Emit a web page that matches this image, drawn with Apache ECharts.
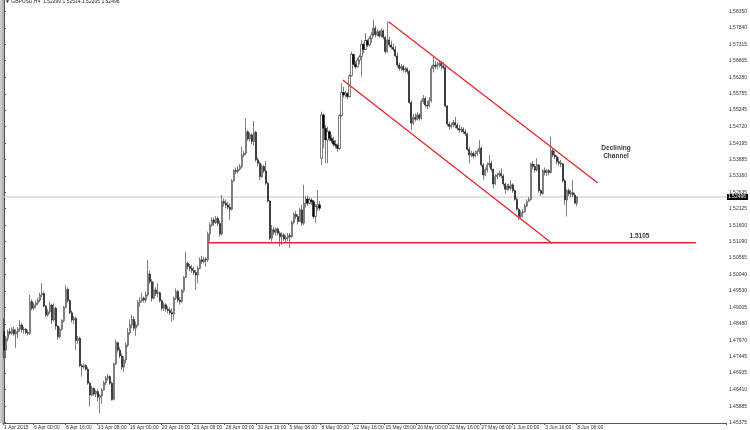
<!DOCTYPE html>
<html>
<head>
<meta charset="utf-8">
<script src="https://cdn.jsdelivr.net/npm/echarts@6/dist/echarts.min.js"></script>
<style>
html, body { margin: 0; padding: 0; background: #fff; }
#chart { width: 750px; height: 430px; }
</style>
</head>
<body>
<div id="chart"></div>
<script>
// GBPUSD H4 from 1 Apr 2015 12:00, one row per bar: [open, close, low, high]
var candles = [
  [1.4824,1.4766,1.4740,1.4866],[1.4766,1.4803,1.4743,1.4811],[1.4803,1.4824,1.4793,1.4830],[1.4824,1.4819,1.4814,1.4835],
  [1.4819,1.4830,1.4814,1.4838],[1.4830,1.4817,1.4811,1.4840],[1.4817,1.4824,1.4772,1.4832],[1.4824,1.4832,1.4803,1.4838],
  [1.4832,1.4845,1.4824,1.4861],[1.4845,1.4830,1.4821,1.4851],[1.4830,1.4832,1.4817,1.4840],[1.4832,1.4821,1.4817,1.4835],
  [1.4821,1.4819,1.4812,1.4830],[1.4819,1.4919,1.4814,1.4940],[1.4919,1.4898,1.4891,1.4926],[1.4898,1.4908,1.4891,1.4916],
  [1.4908,1.4914,1.4898,1.4922],[1.4914,1.4924,1.4908,1.4932],[1.4924,1.4940,1.4917,1.4947],[1.4940,1.4945,1.4933,1.4977],
  [1.4945,1.4905,1.4901,1.4951],[1.4905,1.4877,1.4870,1.4908],[1.4877,1.4887,1.4872,1.4895],[1.4887,1.4908,1.4880,1.4919],
  [1.4908,1.4861,1.4848,1.4912],[1.4861,1.4898,1.4856,1.4914],[1.4898,1.4842,1.4830,1.4903],[1.4842,1.4808,1.4798,1.4845],
  [1.4808,1.4832,1.4803,1.4838],[1.4832,1.4859,1.4827,1.4863],[1.4859,1.4901,1.4853,1.4905],[1.4901,1.4958,1.4898,1.4972],
  [1.4958,1.4922,1.4916,1.4964],[1.4922,1.4884,1.4879,1.4926],[1.4884,1.4861,1.4853,1.4891],[1.4861,1.4866,1.4848,1.4874],
  [1.4866,1.4796,1.4766,1.4872],[1.4796,1.4803,1.4785,1.4811],[1.4803,1.4716,1.4712,1.4808],[1.4716,1.4712,1.4682,1.4722],
  [1.4712,1.4717,1.4706,1.4724],[1.4717,1.4705,1.4701,1.4721],[1.4705,1.4661,1.4656,1.4712],[1.4661,1.4624,1.4587,1.4666],
  [1.4624,1.4645,1.4619,1.4653],[1.4645,1.4627,1.4621,1.4648],[1.4627,1.4635,1.4617,1.4640],[1.4635,1.4617,1.4603,1.4642],
  [1.4617,1.4621,1.4566,1.4627],[1.4621,1.4640,1.4596,1.4645],[1.4640,1.4663,1.4638,1.4669],[1.4663,1.4677,1.4655,1.4684],
  [1.4677,1.4682,1.4669,1.4691],[1.4682,1.4661,1.4656,1.4686],[1.4661,1.4610,1.4606,1.4666],[1.4610,1.4722,1.4606,1.4726],
  [1.4722,1.4789,1.4719,1.4800],[1.4789,1.4766,1.4758,1.4793],[1.4766,1.4747,1.4740,1.4775],[1.4747,1.4712,1.4703,1.4756],
  [1.4712,1.4735,1.4697,1.4747],
  [1.4735,1.4782,1.4724,1.4790],[1.4782,1.4821,1.4775,1.4835],[1.4821,1.4845,1.4814,1.4863],[1.4845,1.4863,1.4835,1.4877],
  [1.4863,1.4835,1.4827,1.4872],[1.4835,1.4845,1.4811,1.4856],[1.4845,1.4916,1.4840,1.4924],[1.4916,1.4922,1.4903,1.4933],
  [1.4922,1.4930,1.4916,1.4947],[1.4930,1.4924,1.4916,1.4935],[1.4924,1.4940,1.4916,1.4951],[1.4940,1.5006,1.4935,1.5051],
  [1.5006,1.4982,1.4975,1.5017],[1.4982,1.4930,1.4919,1.4990],[1.4930,1.4956,1.4926,1.4982],[1.4956,1.4945,1.4937,1.4964],
  [1.4945,1.4947,1.4933,1.4977],[1.4947,1.4922,1.4916,1.4951],[1.4922,1.4898,1.4891,1.4926],[1.4898,1.4909,1.4890,1.4916],
  [1.4909,1.4895,1.4887,1.4914],[1.4895,1.4891,1.4882,1.4905],[1.4891,1.4884,1.4877,1.4901],[1.4884,1.4880,1.4856,1.4898],
  [1.4880,1.4930,1.4861,1.4935],[1.4930,1.4951,1.4924,1.4961],[1.4951,1.4924,1.4916,1.4956],[1.4924,1.4919,1.4909,1.4933],
  [1.4919,1.4954,1.4914,1.4958],[1.4954,1.4996,1.4947,1.5000],[1.4996,1.5040,1.4993,1.5077],[1.5040,1.5030,1.5021,1.5045],
  [1.5030,1.5024,1.5014,1.5038],[1.5024,1.5017,1.5009,1.5035],[1.5017,1.5011,1.5003,1.5030],[1.5011,1.5003,1.4956,1.5019],
  [1.5003,1.5024,1.4977,1.5032],[1.5024,1.5051,1.5021,1.5059],[1.5051,1.5045,1.5038,1.5063],[1.5045,1.5053,1.5040,1.5061],
  [1.5053,1.5051,1.5030,1.5059],[1.5051,1.5133,1.5045,1.5140],[1.5133,1.5161,1.5109,1.5169],[1.5161,1.5177,1.5156,1.5185],
  [1.5177,1.5169,1.5158,1.5185],[1.5169,1.5182,1.5164,1.5190],[1.5182,1.5166,1.5158,1.5188],[1.5166,1.5133,1.5124,1.5175],
  [1.5133,1.5235,1.5127,1.5256],[1.5235,1.5230,1.5219,1.5245],[1.5230,1.5224,1.5214,1.5242],[1.5224,1.5217,1.5211,1.5235],
  [1.5217,1.5211,1.5177,1.5230],[1.5211,1.5301,1.5207,1.5306],[1.5301,1.5333,1.5298,1.5337],[1.5333,1.5330,1.5322,1.5343],
  [1.5330,1.5337,1.5324,1.5348],[1.5337,1.5346,1.5333,1.5354],[1.5346,1.5382,1.5340,1.5409],[1.5382,1.5388,1.5375,1.5396],
  [1.5388,1.5456,1.5382,1.5498],[1.5456,1.5433,1.5427,1.5461],[1.5433,1.5446,1.5425,1.5454],[1.5446,1.5425,1.5416,1.5451],
  [1.5425,1.5454,1.5412,1.5490],[1.5454,1.5367,1.5361,1.5458],[1.5367,1.5356,1.5346,1.5374],[1.5356,1.5314,1.5303,1.5361],
  [1.5314,1.5346,1.5309,1.5353],[1.5346,1.5332,1.5325,1.5351],[1.5332,1.5293,1.5288,1.5363],[1.5293,1.5237,1.5233,1.5298],
  [1.5237,1.5119,1.5114,1.5240],[1.5119,1.5146,1.5109,1.5161],[1.5146,1.5138,1.5130,1.5156],[1.5138,1.5149,1.5128,1.5153],
  [1.5149,1.5135,1.5128,1.5153],[1.5135,1.5124,1.5093,1.5142],[1.5124,1.5130,1.5098,1.5138],[1.5130,1.5117,1.5111,1.5135],
  [1.5117,1.5121,1.5107,1.5128],[1.5121,1.5128,1.5111,1.5135],[1.5128,1.5124,1.5088,1.5135],[1.5124,1.5170,1.5121,1.5174],
  [1.5170,1.5195,1.5163,1.5201],[1.5195,1.5188,1.5180,1.5206],[1.5188,1.5172,1.5163,1.5195],[1.5172,1.5209,1.5170,1.5216],
  [1.5209,1.5167,1.5159,1.5225],[1.5167,1.5230,1.5161,1.5288],[1.5230,1.5243,1.5216,1.5251],[1.5243,1.5230,1.5222,1.5254],
  [1.5230,1.5240,1.5227,1.5248],[1.5240,1.5235,1.5225,1.5246],[1.5235,1.5188,1.5180,1.5240],[1.5188,1.5219,1.5167,1.5227],
  [1.5219,1.5225,1.5206,1.5272],[1.5225,1.5214,1.5206,1.5237],[1.5372,1.5509,1.5351,1.5519],[1.5509,1.5467,1.5403,1.5514],
  [1.5467,1.5430,1.5356,1.5477],[1.5430,1.5456,1.5356,1.5472],[1.5456,1.5435,1.5425,1.5461],[1.5435,1.5427,1.5419,1.5446],
  [1.5427,1.5416,1.5409,1.5440],[1.5416,1.5412,1.5403,1.5430],[1.5412,1.5403,1.5393,1.5419],[1.5403,1.5507,1.5398,1.5511],
  [1.5507,1.5580,1.5503,1.5609],[1.5580,1.5572,1.5564,1.5598],[1.5572,1.5577,1.5564,1.5585],[1.5577,1.5567,1.5559,1.5580],
  [1.5567,1.5633,1.5564,1.5637],[1.5633,1.5700,1.5630,1.5709],[1.5700,1.5669,1.5665,1.5704],[1.5669,1.5661,1.5654,1.5679],
  [1.5661,1.5682,1.5658,1.5690],[1.5682,1.5693,1.5669,1.5700],[1.5693,1.5732,1.5630,1.5746],
  [1.5732,1.5716,1.5704,1.5737],[1.5716,1.5744,1.5714,1.5767],[1.5744,1.5730,1.5723,1.5748],[1.5730,1.5751,1.5727,1.5758],
  [1.5751,1.5762,1.5737,1.5772],[1.5762,1.5783,1.5756,1.5811],[1.5783,1.5762,1.5754,1.5790],[1.5762,1.5772,1.5758,1.5779],
  [1.5772,1.5758,1.5754,1.5777],[1.5758,1.5775,1.5754,1.5783],[1.5775,1.5754,1.5748,1.5779],[1.5754,1.5709,1.5702,1.5758],
  [1.5709,1.5746,1.5706,1.5804],[1.5746,1.5730,1.5723,1.5756],[1.5730,1.5723,1.5716,1.5744],[1.5723,1.5716,1.5709,1.5735],
  [1.5716,1.5695,1.5691,1.5727],[1.5695,1.5667,1.5659,1.5706],[1.5667,1.5656,1.5649,1.5674],[1.5656,1.5662,1.5649,1.5670],
  [1.5662,1.5651,1.5643,1.5667],[1.5651,1.5655,1.5643,1.5662],[1.5655,1.5646,1.5638,1.5659],[1.5646,1.5548,1.5544,1.5651],
  [1.5548,1.5483,1.5461,1.5554],[1.5483,1.5501,1.5477,1.5512],[1.5501,1.5495,1.5488,1.5514],[1.5495,1.5509,1.5491,1.5519],
  [1.5509,1.5498,1.5491,1.5514],[1.5498,1.5551,1.5495,1.5558],[1.5551,1.5561,1.5544,1.5572],[1.5561,1.5540,1.5533,1.5567],
  [1.5540,1.5537,1.5527,1.5554],[1.5537,1.5554,1.5533,1.5565],[1.5554,1.5656,1.5548,1.5664],[1.5656,1.5667,1.5643,1.5693],
  [1.5667,1.5662,1.5653,1.5680],[1.5662,1.5667,1.5653,1.5677],[1.5667,1.5672,1.5659,1.5683],[1.5672,1.5664,1.5653,1.5680],
  [1.5664,1.5659,1.5653,1.5677],[1.5659,1.5537,1.5533,1.5667],[1.5537,1.5480,1.5474,1.5540],[1.5480,1.5472,1.5464,1.5488],
  [1.5472,1.5477,1.5466,1.5485],[1.5477,1.5485,1.5470,1.5493],[1.5485,1.5477,1.5467,1.5503],[1.5477,1.5467,1.5459,1.5485],
  [1.5467,1.5461,1.5453,1.5477],[1.5461,1.5464,1.5453,1.5472],[1.5464,1.5456,1.5449,1.5470],[1.5456,1.5449,1.5443,1.5464],
  [1.5449,1.5400,1.5396,1.5453],[1.5400,1.5382,1.5356,1.5407],[1.5382,1.5388,1.5375,1.5396],[1.5388,1.5379,1.5372,1.5393],
  [1.5379,1.5386,1.5375,1.5396],[1.5386,1.5393,1.5379,1.5400],[1.5393,1.5404,1.5386,1.5430],[1.5404,1.5351,1.5346,1.5409],
  [1.5351,1.5319,1.5304,1.5356],
  [1.5319,1.5335,1.5316,1.5343],[1.5335,1.5351,1.5327,1.5358],[1.5351,1.5356,1.5343,1.5382],[1.5356,1.5337,1.5330,1.5364],
  [1.5337,1.5291,1.5277,1.5340],[1.5291,1.5314,1.5288,1.5322],[1.5314,1.5319,1.5306,1.5327],[1.5319,1.5324,1.5312,1.5333],
  [1.5324,1.5316,1.5309,1.5340],[1.5316,1.5291,1.5284,1.5322],[1.5291,1.5274,1.5261,1.5295],[1.5274,1.5284,1.5270,1.5291],
  [1.5284,1.5277,1.5270,1.5291],[1.5277,1.5288,1.5270,1.5303],[1.5288,1.5270,1.5263,1.5293],[1.5270,1.5242,1.5238,1.5274],
  [1.5242,1.5211,1.5207,1.5249],[1.5211,1.5188,1.5177,1.5214],[1.5188,1.5200,1.5182,1.5207],[1.5200,1.5203,1.5185,1.5211],
  [1.5203,1.5221,1.5200,1.5228],[1.5221,1.5235,1.5217,1.5242],[1.5235,1.5242,1.5235,1.5249],[1.5242,1.5354,1.5238,1.5358],
  [1.5354,1.5346,1.5337,1.5364],[1.5346,1.5335,1.5327,1.5354],[1.5335,1.5351,1.5330,1.5372],[1.5351,1.5270,1.5263,1.5354],
  [1.5270,1.5261,1.5253,1.5274],[1.5261,1.5333,1.5256,1.5337],[1.5333,1.5327,1.5318,1.5343],[1.5327,1.5333,1.5316,1.5339],
  [1.5333,1.5327,1.5318,1.5337],[1.5327,1.5396,1.5324,1.5440],[1.5396,1.5382,1.5375,1.5403],[1.5382,1.5377,1.5369,1.5396],
  [1.5377,1.5361,1.5354,1.5382],[1.5361,1.5356,1.5348,1.5375],[1.5356,1.5354,1.5343,1.5367],[1.5354,1.5301,1.5295,1.5358],
  [1.5301,1.5240,1.5224,1.5306],[1.5240,1.5270,1.5188,1.5274],[1.5270,1.5259,1.5253,1.5277],[1.5259,1.5263,1.5249,1.5272],
  [1.5263,1.5256,1.5249,1.5303],[1.5256,1.5230,1.5228,1.5263],[1.52299,1.52496,1.52205,1.52514]
];

var priceTicks = [1.58350, 1.57840, 1.57315, 1.56805, 1.56280, 1.55755, 1.55245, 1.54720, 1.54195,
  1.53685, 1.53160, 1.52635, 1.52125, 1.51600, 1.51090, 1.50565, 1.50040, 1.49530, 1.49005,
  1.48480, 1.47970, 1.47445, 1.46935, 1.46410, 1.45885, 1.45375];

var lastPrice = 1.52496;
var supportLevel = 1.5105;
// trend lines as [bar position, price]
var upperChannel = [[192.6, 1.58035], [297.2, 1.52948]];
var lowerChannel = [[169.65, 1.56193], [274.35, 1.51033]];
var supportLine = [[102.2, supportLevel], [346.5, supportLevel]];

var slots = 362;  // bars plus empty space on the right (chart shift)
var priceLine = [[-0.5, lastPrice], [slots - 0.5, lastPrice]];
var months = ['Jan','Feb','Mar','Apr','May','Jun','Jul','Aug','Sep','Oct','Nov','Dec'];

function pad(n) { return n < 10 ? '0' + n : '' + n; }

// H4 bar times, weekends skipped
var times = [];
var t = Date.UTC(2015, 3, 1, 12);
while (times.length < slots) {
  var d = new Date(t);
  var wd = d.getUTCDay();
  if (wd !== 0 && wd !== 6) {
    if (times.length === 0) {
      times.push(d.getUTCDate() + ' ' + months[d.getUTCMonth()] + ' ' + d.getUTCFullYear());
    } else {
      times.push(d.getUTCDate() + ' ' + months[d.getUTCMonth()] + ' ' + pad(d.getUTCHours()) + ':' + pad(d.getUTCMinutes()));
    }
  }
  t += 4 * 3600 * 1000;
}

function showTime(i) {
  return i === 0 || (i >= 15 && (i - 15) % 16 === 0 && i < candles.length);
}

var font = 'Liberation Sans';
var red = '#e3262b';

var myChart = echarts.init(document.getElementById('chart'));
myChart.setOption({
  animation: false,
  backgroundColor: '#ffffff',
  grid: { left: 3, right: 23, top: 0, bottom: 7 },
  xAxis: [{
    type: 'category',
    data: times,
    boundaryGap: true,
    axisLine: { lineStyle: { color: '#555', width: 1 } },
    axisTick: { show: true, length: 2, interval: showTime, lineStyle: { color: '#555' } },
    axisLabel: {
      interval: showTime,
      align: 'left',
      margin: 2,
      fontFamily: font,
      fontSize: 5,
      color: '#333'
    },
    splitLine: { show: false }
  }, {
    type: 'value',
    min: -0.5,
    max: slots - 0.5,
    show: false
  }],
  yAxis: {
    type: 'value',
    position: 'right',
    min: 1.45354,
    max: 1.58721,
    axisLine: { show: true, lineStyle: { color: '#555', width: 1 } },
    axisTick: { show: true, length: 2, customValues: priceTicks, lineStyle: { color: '#555' } },
    axisLabel: {
      customValues: priceTicks,
      formatter: function (v) { return v.toFixed(5); },
      margin: 3,
      fontFamily: font,
      fontSize: 5,
      color: '#333'
    },
    splitLine: { show: false }
  },
  series: [
    {
      // current price line with its label box on the price scale
      type: 'line', xAxisIndex: 1, data: priceLine, symbol: 'none', silent: true, z: 1,
      lineStyle: { color: '#c4c4c4', width: 1 },
      endLabel: {
        show: true,
        distance: 1,
        formatter: lastPrice.toFixed(5),
        backgroundColor: '#000',
        color: '#fff',
        fontFamily: font,
        fontSize: 5,
        padding: [1, 2, 0, 1]
      }
    },
    {
      type: 'candlestick',
      data: candles,
      barWidth: 1.6,
      z: 2,
      itemStyle: {
        color: '#ffffff',
        color0: '#000000',
        borderColor: '#000000',
        borderColor0: '#000000',
        borderWidth: 0.5
      }
    },
    {
      type: 'line', xAxisIndex: 1, data: upperChannel, symbol: 'none', silent: true, z: 4,
      lineStyle: { color: red, width: 1.3 }
    },
    {
      type: 'line', xAxisIndex: 1, data: lowerChannel, symbol: 'none', silent: true, z: 4,
      lineStyle: { color: red, width: 1.3 }
    },
    {
      type: 'line', xAxisIndex: 1, data: supportLine, symbol: 'none', silent: true, z: 4,
      lineStyle: { color: red, width: 1.3 }
    }
  ],
  graphic: [
    { type: 'line', shape: { x1: 1, y1: 0, x2: 1, y2: 423 }, style: { stroke: '#999', lineWidth: 1 } },
    { type: 'line', shape: { x1: 3, y1: 0, x2: 3, y2: 423 }, style: { stroke: '#666', lineWidth: 1 } },
    {
      type: 'text', x: 5, y: 2,
      style: {
        text: '\u25BC GBPUSD,H4  1.52299 1.52514 1.52205 1.52496',
        font: '5px ' + font, fill: '#222', verticalAlign: 'middle'
      }
    },
    {
      type: 'text', x: 616, y: 152,
      style: {
        text: 'Declining\nChannel',
        font: 'bold 6.5px ' + font, fill: '#3a3a3a', align: 'center', verticalAlign: 'middle', lineHeight: 8
      }
    },
    {
      type: 'text', x: 639.5, y: 236,
      style: {
        text: '1.5105',
        font: 'bold 6.5px ' + font, fill: '#3a3a3a', align: 'center', verticalAlign: 'middle'
      }
    }
  ]
});
</script>
</body>
</html>
